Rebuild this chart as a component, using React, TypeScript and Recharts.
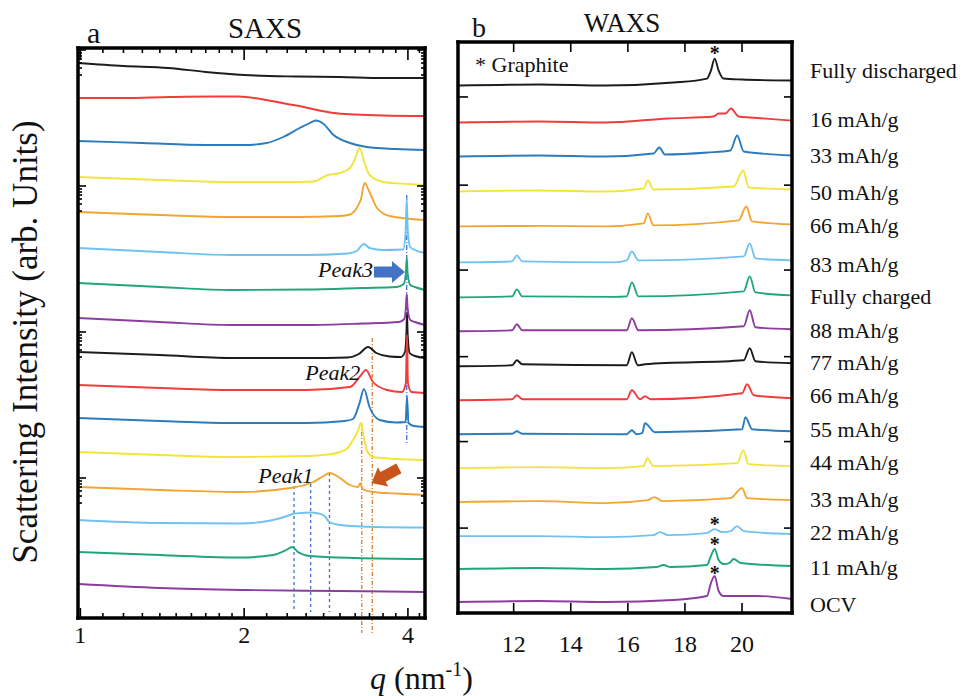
import React from "react";
import { LineChart, Line, XAxis, YAxis, ReferenceLine, ReferenceDot } from "recharts";

type Pt = [number, number];

const FONT = '"Liberation Serif", "Times New Roman", Times, serif';
const TXT = { fontFamily: FONT };

const SAMPLE_LABELS = [
  "Fully discharged", "16 mAh/g", "33 mAh/g", "50 mAh/g", "66 mAh/g", "83 mAh/g",
  "Fully charged", "88 mAh/g", "77 mAh/g", "66 mAh/g", "55 mAh/g", "44 mAh/g",
  "33 mAh/g", "22 mAh/g", "11 mAh/g", "OCV",
];
const SAMPLE_COLORS = [
  "#1c1c1c", "#f23b3b", "#2b7bbd", "#f1e53c", "#f2a533", "#72c2ef", "#22a57a", "#8c3d9e",
  "#1c1c1c", "#f23b3b", "#2b7bbd", "#f1e53c", "#f2a533", "#72c2ef", "#22a57a", "#8c3d9e",
];
// baseline of each sample label, in WAXS intensity units
const WAXS_LABEL_Y = [53.6, 48.7, 45.0, 41.3, 38.0, 34.1, 30.9, 27.5, 24.3, 21.0, 17.6, 14.3, 10.6, 7.3, 3.8, 0.1];

// ---- SAXS curves (q in nm^-1, offset intensity in arb. units)
const saxs01: Pt[] = [[0.99, 55.5], [1.2, 55.2], [1.45, 55.0], [1.7, 54.6], [2.0, 54.3], [2.5, 54.15], [3.0, 54.1], [3.6, 54.0], [4.3, 54.0]];
const saxs02: Pt[] = [[0.99, 52.0], [1.2, 52.0], [1.46, 52.1], [1.75, 52.15], [1.95, 52.15], [2.2, 51.8], [2.4, 51.4], [2.55, 51.15], [2.72, 50.8], [2.92, 50.5], [3.2, 50.35], [3.6, 50.25], [4.3, 50.2]];
const saxs03: Pt[] = [[0.99, 47.7], [1.3, 47.5], [1.7, 47.3], [2.0, 47.3], [2.2, 47.5], [2.36, 48.1], [2.53, 49.0], [2.64, 49.5], [2.71, 49.75], [2.8, 49.4], [2.92, 48.3], [3.13, 47.5], [3.36, 47.1], [3.8, 46.9], [4.3, 46.8]];
const saxs04: Pt[] = [[0.99, 44.1], [1.4, 43.8], [1.9, 43.6], [2.4, 43.6], [2.68, 43.65], [2.85, 44.3], [3.0, 44.5], [3.13, 45.0], [3.19, 45.8], [3.26, 47.0], [3.33, 45.5], [3.4, 44.3], [3.61, 43.6], [4.0, 43.4], [4.3, 43.3]];
const saxs05: Pt[] = [[0.99, 40.6], [1.4, 40.3], [1.9, 40.1], [2.5, 40.1], [3.0, 40.2], [3.13, 40.35], [3.22, 41.0], [3.28, 41.9], [3.33, 43.5], [3.4, 42.6], [3.51, 41.0], [3.7, 40.2], [4.3, 39.8]];
const saxs06: Pt[] = [[0.99, 37.0], [1.4, 36.6], [1.9, 36.3], [2.6, 36.3], [3.1, 36.45], [3.22, 36.7], [3.32, 37.4], [3.4, 37.0], [3.6, 36.8], [3.92, 36.85], [3.96, 38.5], [3.98, 41.9], [4.0, 38.5], [4.04, 37.1], [4.12, 36.8], [4.3, 36.5]];
const saxs07: Pt[] = [[0.99, 33.5], [1.4, 33.1], [1.9, 32.8], [2.6, 32.85], [3.3, 33.0], [3.81, 33.1], [3.93, 33.4], [3.965, 34.5], [3.98, 36.0], [3.995, 34.5], [4.04, 33.3], [4.12, 33.1], [4.3, 32.8]];
const saxs08: Pt[] = [[0.99, 30.0], [1.4, 29.6], [1.9, 29.3], [2.6, 29.3], [3.3, 29.45], [3.85, 29.6], [3.94, 29.9], [3.965, 31.0], [3.98, 32.4], [3.995, 31.0], [4.04, 29.8], [4.12, 29.6], [4.3, 29.3]];
const saxs09: Pt[] = [[0.99, 26.6], [1.4, 26.3], [1.9, 26.0], [2.6, 26.0], [3.1, 26.05], [3.25, 26.4], [3.38, 27.1], [3.5, 26.5], [3.7, 26.15], [3.88, 26.1], [3.95, 26.6], [3.975, 28.5], [3.985, 30.5], [3.995, 28.5], [4.03, 26.5], [4.12, 26.2], [4.3, 26.0]];
const saxs10: Pt[] = [[0.99, 23.3], [1.4, 23.0], [1.9, 22.8], [2.6, 22.8], [3.13, 23.1], [3.26, 24.1], [3.35, 24.8], [3.45, 23.6], [3.66, 22.8], [3.9, 22.6], [3.965, 23.5], [3.985, 28.3], [4.0, 23.5], [4.06, 22.6], [4.3, 22.5]];
const saxs11: Pt[] = [[0.99, 20.0], [1.4, 19.7], [1.9, 19.5], [2.6, 19.5], [3.06, 19.7], [3.17, 19.9], [3.26, 21.5], [3.32, 22.9], [3.4, 21.1], [3.55, 19.8], [3.8, 19.55], [3.96, 19.6], [3.985, 22.1], [4.01, 19.5], [4.1, 19.2], [4.3, 19.1]];
const saxs12: Pt[] = [[0.99, 16.6], [1.4, 16.3], [1.9, 16.1], [2.6, 16.2], [2.9, 16.4], [3.0, 16.6], [3.1, 17.0], [3.17, 17.8], [3.23, 18.6], [3.28, 19.5], [3.32, 18.0], [3.36, 16.8], [3.45, 16.1], [3.8, 15.9], [4.3, 15.8]];
const saxs13: Pt[] = [[0.99, 13.1], [1.4, 12.8], [1.97, 12.6], [2.43, 13.0], [2.68, 13.6], [2.8, 14.2], [2.87, 14.5], [3.0, 14.0], [3.13, 13.3], [3.24, 13.1], [3.27, 13.5], [3.3, 12.9], [3.45, 12.6], [3.8, 12.45], [4.3, 12.3]];
const saxs14: Pt[] = [[0.99, 9.8], [1.4, 9.5], [1.97, 9.45], [2.26, 9.8], [2.43, 10.3], [2.47, 10.45], [2.55, 10.5], [2.65, 10.55], [2.74, 10.45], [2.81, 10.2], [2.87, 9.6], [3.0, 9.3], [3.5, 9.1], [4.3, 9.05]];
const saxs15: Pt[] = [[0.99, 6.6], [1.4, 6.3], [1.97, 6.05], [2.26, 6.3], [2.39, 6.8], [2.45, 7.1], [2.51, 6.6], [2.64, 6.2], [3.2, 6.0], [4.3, 5.9]];
const saxs16: Pt[] = [[0.99, 3.4], [1.4, 3.0], [2.0, 2.8], [3.0, 2.7], [4.3, 2.6]];

// ---- WAXS curves
const waxs01: Pt[] = [[10.05, 52.8], [12.9, 52.9], [15.2, 52.8], [17.6, 53.1], [18.77, 53.5], [18.91, 54.3], [19.04, 55.5], [19.18, 54.3], [19.35, 53.5], [20.0, 53.4], [21.75, 53.3]];
const waxs02: Pt[] = [[10.05, 49.1], [12.9, 49.2], [15.2, 49.1], [17.4, 49.5], [19.0, 49.7], [19.18, 50.0], [19.42, 50.0], [19.61, 50.5], [19.88, 49.7], [20.3, 49.6], [21.75, 49.3]];
const waxs03: Pt[] = [[10.05, 45.7], [12.9, 45.8], [15.2, 45.7], [16.9, 46.0], [17.1, 46.6], [17.3, 45.9], [18.8, 46.1], [19.59, 46.3], [19.83, 47.8], [20.06, 46.2], [21.75, 45.8]];
const waxs04: Pt[] = [[10.05, 42.2], [12.9, 42.3], [15.2, 42.2], [16.55, 42.5], [16.7, 43.3], [16.9, 42.4], [19.71, 42.7], [20.04, 44.3], [20.23, 42.6], [21.75, 42.4]];
const waxs05: Pt[] = [[10.05, 38.7], [12.9, 38.75], [15.2, 38.7], [16.55, 39.0], [16.7, 40.0], [16.9, 38.8], [19.88, 39.3], [20.15, 40.7], [20.35, 39.2], [21.75, 38.9]];
const waxs06: Pt[] = [[10.05, 35.1], [11.95, 35.2], [12.11, 35.8], [12.3, 35.2], [15.5, 35.1], [15.96, 35.3], [16.14, 36.2], [16.37, 35.3], [16.6, 35.3], [20.06, 35.7], [20.27, 37.0], [20.47, 35.5], [21.75, 35.3]];
const waxs07: Pt[] = [[10.05, 31.6], [11.95, 31.7], [12.11, 32.4], [12.3, 31.7], [15.5, 31.65], [15.96, 31.7], [16.14, 33.1], [16.37, 31.7], [20.06, 32.2], [20.27, 33.7], [20.47, 32.1], [21.75, 31.8]];
const waxs08: Pt[] = [[10.05, 28.2], [11.95, 28.3], [12.11, 28.9], [12.3, 28.3], [15.96, 28.3], [16.14, 29.5], [16.37, 28.3], [20.06, 28.7], [20.27, 30.3], [20.47, 28.6], [21.75, 28.4]];
const waxs09: Pt[] = [[10.05, 24.7], [11.95, 24.8], [12.11, 25.3], [12.3, 24.9], [15.96, 24.8], [16.14, 26.1], [16.35, 24.8], [16.6, 24.9], [20.06, 25.3], [20.27, 26.5], [20.47, 25.2], [21.75, 25.0]];
const waxs10: Pt[] = [[10.05, 21.3], [11.95, 21.4], [12.11, 21.8], [12.3, 21.4], [15.96, 21.4], [16.14, 22.3], [16.43, 21.4], [16.6, 21.7], [16.8, 21.4], [20.0, 22.0], [20.18, 22.9], [20.41, 21.8], [21.75, 21.5]];
const waxs11: Pt[] = [[10.05, 17.9], [11.95, 17.95], [12.11, 18.2], [12.3, 17.95], [15.96, 17.9], [16.14, 18.3], [16.3, 17.9], [16.5, 18.0], [16.6, 19.0], [16.95, 18.1], [20.0, 18.4], [20.12, 19.6], [20.35, 18.4], [21.75, 18.2]];
const waxs12: Pt[] = [[10.05, 14.5], [12.9, 14.6], [15.2, 14.5], [16.55, 14.7], [16.68, 15.5], [16.9, 14.7], [19.83, 15.0], [20.04, 16.3], [20.23, 14.9], [21.75, 14.7]];
const waxs13: Pt[] = [[10.05, 11.1], [12.9, 11.2], [15.2, 11.0], [16.7, 11.3], [16.93, 11.6], [17.2, 11.2], [19.59, 11.5], [20.0, 12.5], [20.18, 11.5], [21.75, 11.3]];
const waxs14: Pt[] = [[10.05, 7.7], [12.9, 7.7], [15.2, 7.6], [16.9, 7.8], [17.13, 8.1], [17.4, 7.8], [18.77, 8.0], [19.04, 8.4], [19.3, 8.1], [19.6, 8.2], [19.83, 8.7], [20.06, 8.2], [21.75, 7.9]];
const waxs15: Pt[] = [[10.05, 4.4], [12.9, 4.5], [15.2, 4.4], [17.0, 4.6], [17.25, 4.8], [17.5, 4.6], [18.77, 4.8], [18.91, 5.7], [19.04, 6.4], [19.18, 5.3], [19.35, 4.9], [19.55, 5.0], [19.71, 5.4], [19.95, 5.0], [21.75, 4.7]];
const waxs16: Pt[] = [[10.05, 1.1], [12.9, 1.2], [15.2, 1.1], [17.6, 1.3], [18.77, 1.7], [18.91, 3.0], [19.04, 3.7], [19.18, 2.2], [19.35, 1.7], [20.5, 1.7], [21.75, 1.4]];

const SAXS_CURVES = [saxs01, saxs02, saxs03, saxs04, saxs05, saxs06, saxs07, saxs08, saxs09, saxs10, saxs11, saxs12, saxs13, saxs14, saxs15, saxs16];
const WAXS_CURVES = [waxs01, waxs02, waxs03, waxs04, waxs05, waxs06, waxs07, waxs08, waxs09, waxs10, waxs11, waxs12, waxs13, waxs14, waxs15, waxs16];

// ---- axes
const SAXS_X_DOMAIN: [number, number] = [0.99, 4.3];
const SAXS_Y_DOMAIN: [number, number] = [0, 57];
const SAXS_X_MAJOR = [1, 2, 4];
const SAXS_X_LABELS = [1, 2, 4];
const SAXS_X_MINOR = [1.1, 1.2, 1.3, 1.4, 1.5, 1.6, 1.7, 1.8, 1.9, 2.2, 2.4, 2.6, 2.8, 3, 3.2, 3.4, 3.6, 3.8, 4.2];
const SAXS_Y_MAJOR = [56.8, 43.2, 28.6, 14.0];
const SAXS_Y_MINOR = [
  56.5, 56.2, 55.9, 55.5, 55.0, 54.3,
  42.9, 42.6, 42.3, 41.9, 41.4, 40.7,
  28.3, 28.0, 27.7, 27.3, 26.8, 26.1,
  13.7, 13.4, 13.1, 12.7, 12.2, 11.5,
];

const WAXS_X_DOMAIN: [number, number] = [10.05, 21.75];
const WAXS_Y_DOMAIN: [number, number] = [0, 57.16];
const WAXS_X_TICKS = [12, 14, 16, 18, 20];
const WAXS_Y_TICKS = [51.66, 42.83, 34.33, 25.66, 17.16, 8.5];

// ---- annotations
const PEAK_TEXTS = [
  { text: "Peak3", q: 3.45, y: 34.1 },
  { text: "Peak2", q: 3.27, y: 23.8 },
  { text: "Peak1", q: 2.68, y: 13.5 },
];
const PEAK1_LINES = [
  { q: 2.47, top: 13.2, bottom: 0.6 },
  { q: 2.65, top: 13.4, bottom: 0.6 },
  { q: 2.87, top: 14.5, bottom: 0.6 },
];
const PEAK2_LINES = [
  { q: 3.29, top: 19.5, bottom: -1.5 },
  { q: 3.44, top: 28.0, bottom: -1.5 },
];
const PEAK3_LINE = { q: 3.98, top: 42.3, bottom: 17.5 };
const GRAPHITE_MARKS = [
  { q: 19.04, y: 55.33 },
  { q: 19.04, y: 8.16 },
  { q: 19.04, y: 6.16 },
  { q: 19.04, y: 3.33 },
];

const rows = (pts: Pt[]) => pts.map(([q, v]) => ({ q, v }));
const sortNum = (a: number[]) => [...a].sort((x, y) => x - y);

const AXIS_LINE = { stroke: "#000", strokeWidth: 3.5, strokeLinecap: "square" as const };

function xTick(side: "top" | "bottom", majors: number[], labels: number[], majorLen: number, minorLen: number, labelDy: number) {
  return (props: any) => {
    const { x, y, payload } = props;
    const v = payload.value;
    const len = majors.includes(v) ? majorLen : minorLen;
    const dir = side === "bottom" ? -1 : 1;
    return (
      <g>
        <line x1={x} x2={x} y1={y} y2={y + dir * len} stroke="#000" strokeWidth={1.6} />
        {side === "bottom" && labels.includes(v) && (
          <text x={x} y={y + labelDy} textAnchor="middle" style={TXT} fontSize={24} fill="#111">
            {v}
          </text>
        )}
      </g>
    );
  };
}

function yTick(side: "left" | "right", majors: number[], majorLen: number, minorLen: number) {
  return (props: any) => {
    const { x, y, payload } = props;
    const len = majors.includes(payload.value) ? majorLen : minorLen;
    const dir = side === "left" ? 1 : -1;
    return <line x1={x} x2={x + dir * len} y1={y} y2={y} stroke="#000" strokeWidth={1.6} />;
  };
}

const arrowShape = (color: string, angle: number) => (p: any) => {
  const { cx, cy } = p;
  const pts = [
    [0, 0], [-13, -11], [-13, -5.5], [-31, -5.5], [-31, 5.5], [-13, 5.5], [-13, 11],
  ].map(([dx, dy]) => `${cx + dx},${cy + dy}`).join(" ");
  return <polygon points={pts} fill={color} transform={`rotate(${angle} ${cx} ${cy})`} />;
};

function SaxsPanel() {
  const ticksX = sortNum([...SAXS_X_MAJOR, ...SAXS_X_MINOR]);
  const ticksY = sortNum([...SAXS_Y_MAJOR, ...SAXS_Y_MINOR]);
  return (
    <LineChart width={440} height={660} margin={{ top: 38, right: 5, bottom: 2, left: 48 }}>
      <XAxis xAxisId="b" type="number" dataKey="q" scale="log" domain={SAXS_X_DOMAIN} allowDataOverflow
        ticks={ticksX} interval={0} height={40} tickSize={0} tickMargin={0} tickLine={false}
        axisLine={AXIS_LINE} tick={xTick("bottom", SAXS_X_MAJOR, SAXS_X_LABELS, 10, 5, 25)} />
      <XAxis xAxisId="t" orientation="top" type="number" dataKey="q" scale="log" domain={SAXS_X_DOMAIN} allowDataOverflow
        ticks={ticksX} interval={0} height={10} tickSize={0} tickMargin={0} tickLine={false}
        axisLine={AXIS_LINE} tick={xTick("top", SAXS_X_MAJOR, [], 12, 5, 0)} />
      <YAxis yAxisId="l" type="number" domain={SAXS_Y_DOMAIN} allowDataOverflow ticks={ticksY} interval={0}
        width={30} tickSize={0} tickMargin={0} tickLine={false} axisLine={AXIS_LINE}
        tick={yTick("left", SAXS_Y_MAJOR, 8, 4)} />
      <YAxis yAxisId="r" orientation="right" type="number" domain={SAXS_Y_DOMAIN} allowDataOverflow ticks={ticksY} interval={0}
        width={10} tickSize={0} tickMargin={0} tickLine={false} axisLine={AXIS_LINE}
        tick={yTick("right", SAXS_Y_MAJOR, 8, 4)} />

      {PEAK1_LINES.map((l) => (
        <ReferenceLine key={`p1-${l.q}`} xAxisId="b" yAxisId="l" ifOverflow="visible"
          segment={[{ x: l.q, y: l.top }, { x: l.q, y: l.bottom }]}
          stroke="#3f6fd6" strokeWidth={1.3} strokeDasharray="3 3" />
      ))}
      {PEAK2_LINES.map((l) => (
        <ReferenceLine key={`p2-${l.q}`} xAxisId="b" yAxisId="l" ifOverflow="visible"
          segment={[{ x: l.q, y: l.top }, { x: l.q, y: l.bottom }]}
          stroke="#e07a2e" strokeWidth={1.3} strokeDasharray="4 2 1 2" />
      ))}
      <ReferenceLine xAxisId="b" yAxisId="l" ifOverflow="visible"
        segment={[{ x: PEAK3_LINE.q, y: PEAK3_LINE.top }, { x: PEAK3_LINE.q, y: PEAK3_LINE.bottom }]}
        stroke="#3f6fd6" strokeWidth={1.3} strokeDasharray="5 2 1 2" />

      {SAXS_CURVES.map((pts, i) => (
        <Line key={`s${i}`} xAxisId="b" yAxisId="l" data={rows(pts)} dataKey="v" type="monotone"
          stroke={SAMPLE_COLORS[i]} strokeWidth={1.9} dot={false} activeDot={false} isAnimationActive={false} />
      ))}

      {PEAK_TEXTS.map((p) => (
        <ReferenceDot key={p.text} xAxisId="b" yAxisId="l" x={p.q} y={p.y} r={0} ifOverflow="visible"
          shape={(s: any) => (
            <text x={s.cx} y={s.cy} textAnchor="end" style={TXT} fontStyle="italic" fontSize={22} fill="#111">
              {p.text}
            </text>
          )} />
      ))}
      <ReferenceDot xAxisId="b" yAxisId="l" x={3.95} y={34.6} r={0} ifOverflow="visible" shape={arrowShape("#4472c4", 0)} />
      <ReferenceDot xAxisId="b" yAxisId="l" x={3.43} y={13.5} r={0} ifOverflow="visible" shape={arrowShape("#c8561c", 152)} />
    </LineChart>
  );
}

function WaxsPanel() {
  return (
    <LineChart width={574} height={660} margin={{ top: 32, right: 172, bottom: 7, left: 28 }}>
      <XAxis xAxisId="b" type="number" dataKey="q" domain={WAXS_X_DOMAIN} allowDataOverflow
        ticks={WAXS_X_TICKS} interval={0} height={40} tickSize={0} tickMargin={0} tickLine={false}
        axisLine={AXIS_LINE} tick={xTick("bottom", WAXS_X_TICKS, WAXS_X_TICKS, 10, 10, 39)} />
      <XAxis xAxisId="t" orientation="top" type="number" dataKey="q" domain={WAXS_X_DOMAIN} allowDataOverflow
        ticks={WAXS_X_TICKS} interval={0} height={10} tickSize={0} tickMargin={0} tickLine={false}
        axisLine={AXIS_LINE} tick={xTick("top", WAXS_X_TICKS, [], 10, 10, 0)} />
      <YAxis yAxisId="l" type="number" domain={WAXS_Y_DOMAIN} allowDataOverflow ticks={WAXS_Y_TICKS} interval={0}
        width={30} tickSize={0} tickMargin={0} tickLine={false} axisLine={AXIS_LINE}
        tick={yTick("left", WAXS_Y_TICKS, 10, 10)} />
      <YAxis yAxisId="r" orientation="right" type="number" domain={WAXS_Y_DOMAIN} allowDataOverflow ticks={WAXS_Y_TICKS} interval={0}
        width={10} tickSize={0} tickMargin={0} tickLine={false} axisLine={AXIS_LINE}
        tick={yTick("right", WAXS_Y_TICKS, 8, 8)} />

      {WAXS_CURVES.map((pts, i) => (
        <Line key={`w${i}`} xAxisId="b" yAxisId="l" data={rows(pts)} dataKey="v" type="monotone"
          stroke={SAMPLE_COLORS[i]} strokeWidth={1.9} dot={false} activeDot={false} isAnimationActive={false} />
      ))}

      {GRAPHITE_MARKS.map((m, i) => (
        <ReferenceDot key={`g${i}`} xAxisId="b" yAxisId="l" x={m.q} y={m.y} r={0} ifOverflow="visible"
          shape={(s: any) => (
            <text x={s.cx} y={s.cy} textAnchor="middle" style={TXT} fontSize={20} fontWeight="bold" fill="#111">*</text>
          )} />
      ))}
      {SAMPLE_LABELS.map((label, i) => (
        <ReferenceDot key={`lab${i}`} xAxisId="b" yAxisId="l" x={WAXS_X_DOMAIN[1]} y={WAXS_LABEL_Y[i]} r={0} ifOverflow="visible"
          shape={(s: any) => (
            <text x={s.cx + 18} y={s.cy} textAnchor="start" style={TXT} fontSize={22} fill="#111">{label}</text>
          )} />
      ))}
    </LineChart>
  );
}

export default function App() {
  return (
    <div style={{ position: "absolute", left: 0, top: 0, width: 974, height: 696, background: "#fff", fontFamily: FONT }}>
      <div style={{ position: "absolute", left: 0, top: 0 }}>
        <SaxsPanel />
      </div>
      <div style={{ position: "absolute", left: 400, top: 0 }}>
        <WaxsPanel />
      </div>
      <svg width={974} height={696} style={{ position: "absolute", left: 0, top: 0, pointerEvents: "none", fontFamily: FONT }}
        fill="#111">
        <text x={87} y={43} fontSize={30}>a</text>
        <text x={265} y={38} fontSize={29} textAnchor="middle">SAXS</text>
        <text x={472} y={37} fontSize={28}>b</text>
        <text x={622} y={32} fontSize={27} textAnchor="middle">WAXS</text>
        <text x={475} y={72} fontSize={22}>* Graphite</text>
        <text x={37} y={342} fontSize={35} textAnchor="middle" transform="rotate(-90 37 342)">
          Scattering Intensity (arb. Units)
        </text>
        <text x={370} y={689} fontSize={32}>
          <tspan fontStyle="italic">q</tspan>
          <tspan> (nm</tspan>
          <tspan fontSize={20} dy={-13}>-1</tspan>
          <tspan dy={13}>)</tspan>
        </text>
      </svg>
    </div>
  );
}
